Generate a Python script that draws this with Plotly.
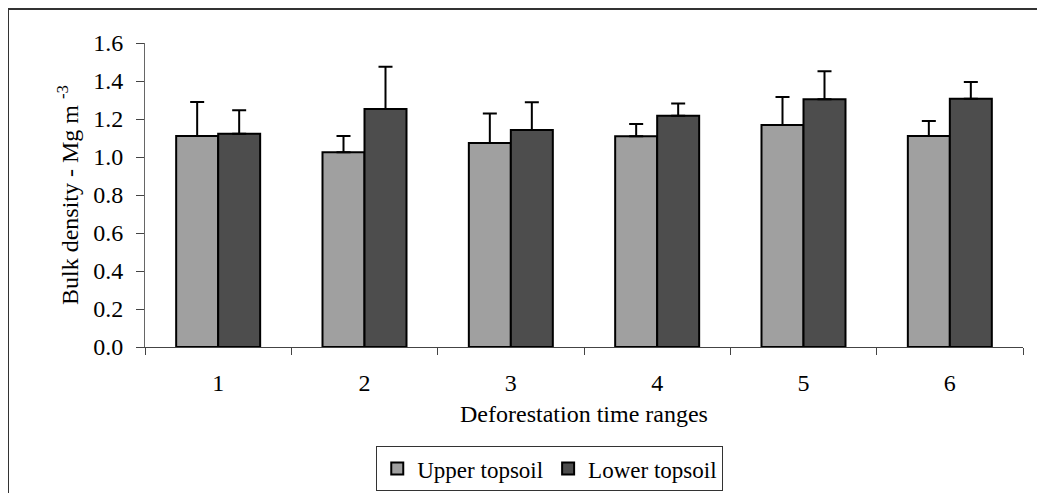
import plotly.graph_objects as go

# data
ranges = ["1", "2", "3", "4", "5", "6"]
upper = [1.11, 1.025, 1.074, 1.109, 1.168, 1.11]
upper_err = [0.18, 0.085, 0.155, 0.065, 0.148, 0.079]
lower = [1.123, 1.253, 1.142, 1.217, 1.304, 1.307]
lower_err = [0.123, 0.222, 0.146, 0.064, 0.147, 0.088]

FONT = "Liberation Serif"
font = dict(family=FONT, size=24, color="black")

# page body has an 8px margin, so the figure is 8px smaller than the window
W, H = 1037, 485
L, R, T, B = 137, 22, 35, 146
PW, PH = W - L - R, H - T - B

fig = go.Figure()
fig.add_trace(go.Bar(
    x=ranges, y=upper, name="Upper topsoil",
    marker=dict(color="#a0a0a0", line=dict(color="black", width=2)),
    error_y=dict(type="data", array=upper_err, arrayminus=[0] * 6, symmetric=False,
                 color="black", thickness=2, width=7),
))
fig.add_trace(go.Bar(
    x=ranges, y=lower, name="Lower topsoil",
    marker=dict(color="#4d4d4d", line=dict(color="black", width=2)),
    error_y=dict(type="data", array=lower_err, arrayminus=[0] * 6, symmetric=False,
                 color="black", thickness=2, width=7),
))

fig.update_layout(
    width=W, height=H,
    margin=dict(l=L, r=R, t=T, b=B, autoexpand=False),
    paper_bgcolor="white", plot_bgcolor="white",
    font=font,
    barmode="group", bargap=0.426, bargroupgap=0,
    showlegend=True,
    legend=dict(orientation="h", x=0.461, xanchor="center", y=-0.326, yanchor="top",
                bordercolor="#333", borderwidth=1, font=dict(family=FONT, size=23, color="black"),
                itemwidth=30, traceorder="normal"),
    xaxis=dict(
        title=dict(text="Deforestation time ranges", standoff=10, font=font),
        tickfont=font, automargin=False, ticklabelstandoff=14,
        showline=True, linecolor="#444", linewidth=1,
        ticks="outside", tickson="boundaries", ticklen=7, tickcolor="#444",
        showgrid=False, zeroline=False,
    ),
    yaxis=dict(
        title=dict(text="Bulk density - Mg m <sup>-3</sup>", standoff=7, font=font),
        tickfont=font, automargin=False, ticklabelstandoff=8,
        range=[0, 1.6], dtick=0.2, tickformat=".1f",
        showline=True, linecolor="#666", linewidth=1,
        ticks="outside", ticklen=8, tickcolor="#444",
        showgrid=False, zeroline=False,
    ),
)

# outer chart frame (top and left edges visible)
fy = (T + PH - 1) / PH
fx = (0 - L) / PW
fig.add_shape(type="line", xref="paper", yref="paper",
              x0=fx, x1=(W - L) / PW, y0=fy, y1=fy,
              line=dict(color="#333", width=2))
fig.add_shape(type="line", xref="paper", yref="paper",
              x0=fx, x1=fx, y0=fy, y1=-(B / PH),
              line=dict(color="#333", width=2))

fig.write_html("out.html")
